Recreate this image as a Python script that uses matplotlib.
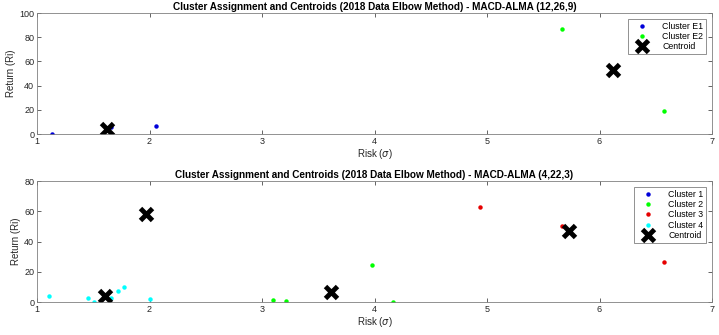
import matplotlib
matplotlib.use("Agg")
import matplotlib.pyplot as plt

# ---- Top panel data: MACD-ALMA (12,26,9) ----
top_e1_x = [1.13, 1.66, 2.06]
top_e1_y = [0.4, 6.0, 6.6]
top_e2_x = [5.67, 6.57]
top_e2_y = [87.0, 19.0]
top_cent_x = [1.62, 6.12]
top_cent_y = [4.4, 53.0]

# ---- Bottom panel data: MACD-ALMA (4,22,3) ----
bot_c1_x = [1.97]
bot_c1_y = [58.5]
bot_c2_x = [3.10, 3.21, 3.98, 4.16]
bot_c2_y = [1.6, 0.5, 24.3, 0.0]
bot_c3_x = [4.94, 5.67, 6.57]
bot_c3_y = [63.0, 50.5, 26.5]
bot_c4_x = [1.11, 1.45, 1.51, 1.66, 1.72, 1.77, 2.00]
bot_c4_y = [4.2, 2.9, 0.0, 2.4, 7.5, 9.7, 2.0]
bot_cent_x = [1.97, 3.61, 5.73, 1.60]
bot_cent_y = [58.5, 6.5, 46.7, 4.0]

top_title = "Cluster Assignment and Centroids (2018 Data Elbow Method) - MACD-ALMA (12,26,9)"
bot_title = "Cluster Assignment and Centroids (2018 Data Elbow Method) - MACD-ALMA (4,22,3)"
x_ticks = [1, 2, 3, 4, 5, 6, 7]
top_y_ticks = [0, 20, 40, 60, 80, 100]
bot_y_ticks = [0, 20, 40, 60, 80]

BLUE = (0, 0, 0.85)
GREEN = (0, 1, 0)
RED = (0.9, 0, 0)
CYAN = (0, 1, 1)
TXT = (0.15, 0.15, 0.15)
EDGE = (0.5, 0.5, 0.5)

plt.rcParams['font.family'] = ['Liberation Sans', 'DejaVu Sans']

fig = plt.figure(figsize=(7.19, 3.35), dpi=100)
ax1 = fig.add_axes([0.0515, 0.600, 0.9388, 0.361])
ax2 = fig.add_axes([0.0515, 0.0985, 0.9388, 0.361])

def style(ax, yticks, ylim, title):
    ax.set_xlim(1, 7)
    ax.set_ylim(*ylim)
    ax.set_xticks(x_ticks)
    ax.set_yticks(yticks)
    ax.tick_params(direction='in', top=True, right=True, labelsize=6.5,
                   colors=TXT, length=3, width=0.5, pad=2)
    for s in ax.spines.values():
        s.set_color(EDGE)
        s.set_linewidth(0.6)
    ax.set_title(title, fontsize=7.2, fontweight='bold', color='black', pad=2)
    ax.set_xlabel(r"Risk ($\sigma$)", fontsize=7, color=TXT, labelpad=1)
    ax.set_ylabel("Return (Ri)", fontsize=7, color=TXT, labelpad=2)

def legend(ax):
    leg = ax.legend(loc='upper right', fontsize=6.3, frameon=True, fancybox=False,
                    borderpad=0.3, labelspacing=0.15, handletextpad=1.0,
                    handlelength=2.6, borderaxespad=0.7, edgecolor=EDGE,
                    framealpha=1)
    leg.get_frame().set_linewidth(0.6)
    return leg

ms = 3.2
cms = 8
cmew = 3.5
ax1.plot(top_e1_x, top_e1_y, 'o', color=BLUE, ms=ms, mew=0, label='Cluster E1')
ax1.plot(top_e2_x, top_e2_y, 'o', color=GREEN, ms=ms, mew=0, label='Cluster E2')
ax1.plot(top_cent_x, top_cent_y, 'x', color='black', ms=cms, mew=cmew, label='Centroid')
style(ax1, top_y_ticks, (0, 100), top_title)
legend(ax1)

ax2.plot(bot_c1_x, bot_c1_y, 'o', color=BLUE, ms=ms, mew=0, label='Cluster 1')
ax2.plot(bot_c2_x, bot_c2_y, 'o', color=GREEN, ms=ms, mew=0, label='Cluster 2')
ax2.plot(bot_c3_x, bot_c3_y, 'o', color=RED, ms=ms, mew=0, label='Cluster 3')
ax2.plot(bot_c4_x, bot_c4_y, 'o', color=CYAN, ms=ms, mew=0, label='Cluster 4')
ax2.plot(bot_cent_x, bot_cent_y, 'x', color='black', ms=cms, mew=cmew, label='Centroid')
style(ax2, bot_y_ticks, (0, 80), bot_title)
legend(ax2)

fig.savefig("out.png", dpi=100)
